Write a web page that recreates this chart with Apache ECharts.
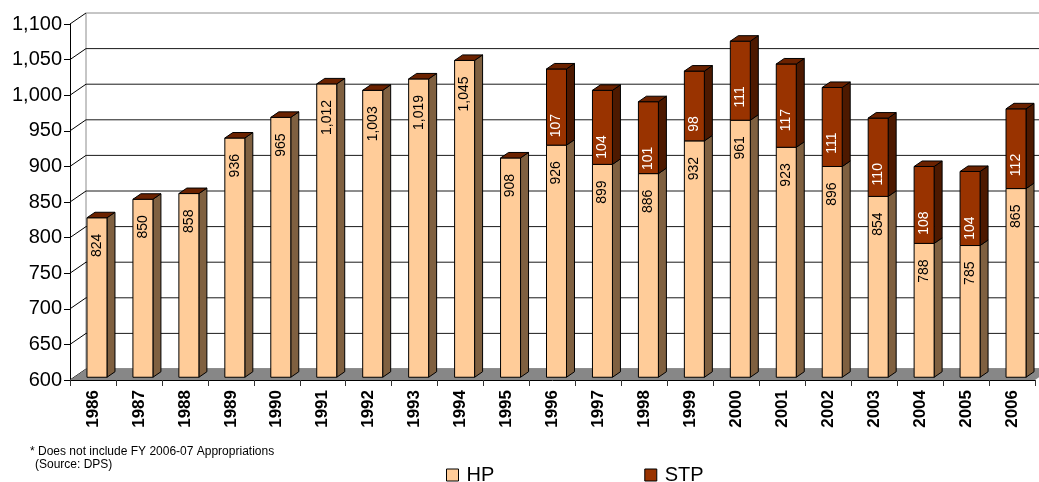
<!DOCTYPE html>
<html>
<head>
<meta charset="utf-8">
<style>
  html, body { margin: 0; padding: 0; background: #fff; }
  #chart { width: 1039px; height: 482px; }
</style>
<script src="https://cdn.jsdelivr.net/npm/echarts@6/dist/echarts.min.js"></script>
</head>
<body>
<div id="chart"></div>
<script>
// Fiscal years on the category axis
const years = ['1986', '1987', '1988', '1989', '1990', '1991', '1992', '1993', '1994', '1995', '1996',
  '1997', '1998', '1999', '2000', '2001', '2002', '2003', '2004', '2005', '2006'];
// Highway Patrol positions
const hpValues = [824, 850, 858, 936, 965, 1012, 1003, 1019, 1045, 908, 926,
  899, 886, 932, 961, 923, 896, 854, 788, 785, 865];
// State Troopers positions (none before 1996)
const stpValues = [0, 0, 0, 0, 0, 0, 0, 0, 0, 0, 107,
  104, 101, 98, 111, 117, 111, 110, 108, 104, 112];
// Value axis ticks
const yTicks = [600, 650, 700, 750, 800, 850, 900, 950, 1000, 1050, 1100];

const Y_MIN = 600, Y_MAX = 1100, Y_STEP = 50;

// Oblique depth of the chart box (pixels): back wall offset relative to the front plane
const DX = 16, DY = -11;
// Columns sit in the middle half of the depth
const COL_FRONT = 0.25, COL_DEPTH = 0.5;
const COL_WIDTH = 0.435;

const COLORS = {
  hpFront: '#FFCC99', hpSide: '#7F6040',
  stpFront: '#993300', stpSide: '#4D1900', top: '#6B2200',
  floor: '#878787', wall: '#8C8C8C', grid: '#1A1A1A'
};

const chart = echarts.init(document.getElementById('chart'), null, { renderer: 'canvas' });

const fmt = v => v.toLocaleString('en-US');

// Box frame: left wall diagonals, back wall gridlines, floor
function renderFrame(params, api) {
  const v = api.value(1);
  const p = api.coord([0, v]);
  const bw = api.size([1, 0])[0];
  const x0 = p[0] - bw / 2;
  const xEnd = x0 + bw * years.length;
  const y = p[1];
  const children = [];
  children.push({
    type: 'line',
    shape: { x1: x0, y1: y, x2: x0 + DX, y2: y + DY },
    style: { stroke: '#000', lineWidth: 1 }
  });
  children.push({
    type: 'line',
    shape: { x1: x0 + DX, y1: y + DY, x2: xEnd + DX, y2: y + DY },
    style: { stroke: v === Y_MAX ? COLORS.wall : COLORS.grid, lineWidth: 1 }
  });
  if (v === Y_MIN) {
    const yTop = api.coord([0, Y_MAX])[1];
    children.push({
      type: 'line',
      shape: { x1: x0 + DX, y1: y + DY, x2: x0 + DX, y2: yTop + DY },
      style: { stroke: COLORS.wall, lineWidth: 1 }
    });
    children.push({
      type: 'polygon',
      shape: { points: [[x0, y], [xEnd, y], [xEnd + DX, y + DY], [x0 + DX, y + DY]] },
      style: { fill: COLORS.floor }
    });
  }
  return { type: 'group', children };
}

// One 3D column segment: front face, right side face, optional top face and value label
function makeColumn(api, front, side, labelColor, labelOffset, drawTop) {
  const i = api.value(0);
  const lo = api.value(1);
  const hi = api.value(2);
  const val = api.value(3);
  const pLo = api.coord([i, lo]);
  const pHi = api.coord([i, hi]);
  const bw = api.size([1, 0])[0];
  const w = bw * COL_WIDTH;
  const ox = DX * COL_FRONT, oy = DY * COL_FRONT;
  const sx = DX * COL_DEPTH, sy = DY * COL_DEPTH;
  const xL = pLo[0] - w / 2 + ox;
  const xR = xL + w;
  const yT = pHi[1] + oy;
  const yB = pLo[1] + oy;
  const stroke = { stroke: '#000', lineWidth: 1 };
  const children = [];
  if (yB - yT > 0.1) {
    children.push({
      type: 'polygon',
      shape: { points: [[xR, yT], [xR + sx, yT + sy], [xR + sx, yB + sy], [xR, yB]] },
      style: Object.assign({ fill: side }, stroke)
    });
    children.push({
      type: 'rect',
      shape: { x: xL, y: yT, width: w, height: yB - yT },
      style: Object.assign({ fill: front }, stroke)
    });
  }
  if (drawTop) {
    children.push({
      type: 'polygon',
      shape: { points: [[xL, yT], [xL + sx, yT + sy], [xR + sx, yT + sy], [xR, yT]] },
      style: Object.assign({ fill: COLORS.top }, stroke)
    });
  }
  if (val > 0) {
    children.push({
      type: 'text',
      x: (xL + xR) / 2,
      y: yT + labelOffset,
      rotation: Math.PI / 2,
      style: {
        text: fmt(val),
        fill: labelColor,
        font: '14px "Liberation Sans", Arial, sans-serif',
        align: 'right',
        verticalAlign: 'middle'
      }
    });
  }
  return { type: 'group', children };
}

const hpData = years.map((y, i) => [i, Y_MIN, hpValues[i], hpValues[i]]);
const stpData = years.map((y, i) => [i, hpValues[i], hpValues[i] + stpValues[i], stpValues[i]]);
const frameData = yTicks.map(v => [0, v]);

const option = {
  backgroundColor: '#fff',
  animation: false,
  grid: { left: 70, right: 4, top: 24, bottom: 102, containLabel: false },
  xAxis: {
    type: 'category',
    data: years,
    axisLine: { show: true, lineStyle: { color: '#000', width: 1 } },
    axisTick: { show: true, length: 6, lineStyle: { color: '#333' } },
    axisLabel: {
      rotate: 90,
      margin: 10,
      color: '#000',
      fontFamily: 'Liberation Sans',
      fontWeight: 'bold',
      fontSize: 17
    },
    splitLine: { show: false }
  },
  yAxis: {
    type: 'value',
    min: Y_MIN,
    max: Y_MAX,
    interval: Y_STEP,
    axisLine: { show: true, lineStyle: { color: '#000', width: 1 } },
    axisTick: { show: true, length: 6, lineStyle: { color: '#000' } },
    axisLabel: {
      margin: 8,
      color: '#000',
      fontFamily: 'Liberation Sans',
      fontSize: 20,
      formatter: v => fmt(v)
    },
    splitLine: { show: false }
  },
  legend: {
    left: 441,
    top: 460,
    itemWidth: 12,
    itemHeight: 12,
    itemGap: 150,
    textStyle: { color: '#000', fontFamily: 'Liberation Sans', fontSize: 20, padding: [0, 0, 0, 3] },
    data: [
      { name: 'HP', icon: 'rect', itemStyle: { color: COLORS.hpFront, borderColor: '#000', borderWidth: 1 } },
      { name: 'STP', icon: 'rect', itemStyle: { color: COLORS.stpFront, borderColor: '#000', borderWidth: 1 } }
    ]
  },
  graphic: [
    {
      type: 'text', left: 30, top: 446,
      style: { text: '* Does not include FY 2006-07 Appropriations', fill: '#000', font: '12px "Liberation Sans", Arial, sans-serif' }
    },
    {
      type: 'text', left: 35, top: 459,
      style: { text: '(Source: DPS)', fill: '#000', font: '12px "Liberation Sans", Arial, sans-serif' }
    }
  ],
  series: [
    {
      name: 'frame',
      type: 'custom',
      z: 1,
      silent: true,
      encode: { x: 0, y: 1 },
      data: frameData,
      renderItem: renderFrame
    },
    {
      name: 'HP',
      type: 'custom',
      z: 2,
      itemStyle: { color: COLORS.hpFront },
      encode: { x: 0, y: [1, 2] },
      data: hpData,
      renderItem: (params, api) => makeColumn(api, COLORS.hpFront, COLORS.hpSide, '#000', 16, false)
    },
    {
      name: 'STP',
      type: 'custom',
      z: 3,
      itemStyle: { color: COLORS.stpFront },
      encode: { x: 0, y: [1, 2] },
      data: stpData,
      renderItem: (params, api) => makeColumn(api, COLORS.stpFront, COLORS.stpSide, '#fff', 45, true)
    }
  ]
};

chart.setOption(option);
</script>
</body>
</html>
